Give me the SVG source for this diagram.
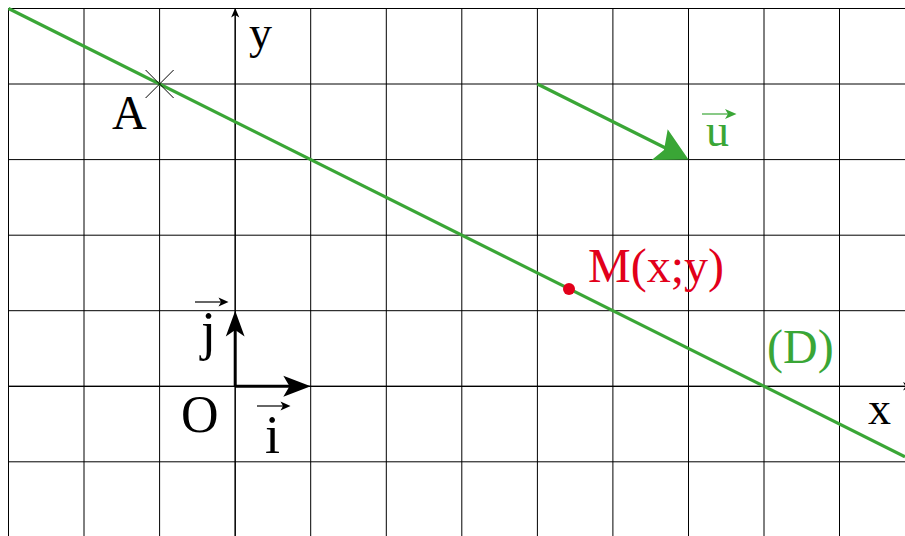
<svg xmlns="http://www.w3.org/2000/svg" width="905" height="536" viewBox="0 0 905 536">
<style>
.grid line{stroke:#000;stroke-width:1}
.t{font-family:"Liberation Serif","Times New Roman",serif}
.blk{fill:#000}
.grn{fill:#3aa636}
.red{fill:#e2001a}
</style>
<rect width="905" height="536" fill="#fff"/>
<g id="grid" class="grid">
<line x1="8.5" y1="8.5" x2="8.5" y2="536"/>
<line x1="84" y1="8.5" x2="84" y2="536"/>
<line x1="159.6" y1="8.5" x2="159.6" y2="536"/>
<line x1="235.2" y1="8.5" x2="235.2" y2="536"/>
<line x1="310.7" y1="8.5" x2="310.7" y2="536"/>
<line x1="386.3" y1="8.5" x2="386.3" y2="536"/>
<line x1="461.8" y1="8.5" x2="461.8" y2="536"/>
<line x1="537.4" y1="8.5" x2="537.4" y2="536"/>
<line x1="612.9" y1="8.5" x2="612.9" y2="536"/>
<line x1="688.5" y1="8.5" x2="688.5" y2="536"/>
<line x1="764" y1="8.5" x2="764" y2="536"/>
<line x1="839.5" y1="8.5" x2="839.5" y2="536"/>
<line x1="8.5" y1="8.5" x2="905" y2="8.5"/>
<line x1="8.5" y1="84" x2="905" y2="84"/>
<line x1="8.5" y1="159.6" x2="905" y2="159.6"/>
<line x1="8.5" y1="235.2" x2="905" y2="235.2"/>
<line x1="8.5" y1="310.7" x2="905" y2="310.7"/>
<line x1="8.5" y1="386.3" x2="905" y2="386.3"/>
<line x1="8.5" y1="461.8" x2="905" y2="461.8"/>
</g>
<g id="axes">
<line x1="235.2" y1="536" x2="235.2" y2="14" stroke="#000" stroke-width="1.2"/>
<path d="M235.2 8 L239.3 17.5 L235.2 15 L231.1 17.5 Z" fill="#000"/>
<line x1="8.5" y1="386.3" x2="905" y2="386.3" stroke="#000" stroke-width="1.2"/>
<path d="M912 386.3 L903 390.5 L905.5 386.3 L903 382 Z" fill="#000"/>
</g>
<g id="connectors">
<line id="lineD" x1="8.5" y1="8.5" x2="905" y2="456.75" stroke="#3aa636" stroke-width="3.2"/>
<g id="vector-u">
<line x1="537.4" y1="84" x2="670" y2="150.3" stroke="#3aa636" stroke-width="3.2"/>
<path d="M688.5 159.6 L651.7 160 L664 150 L667.7 129.3 Z" fill="#3aa636"/>
</g>
<g id="vector-j">
<line x1="235.2" y1="386.3" x2="235.2" y2="328" stroke="#000" stroke-width="3"/>
<path d="M235.2 310.7 L244.6 336.5 L235.2 330 L225.8 336.5 Z" fill="#000"/>
</g>
<g id="vector-i">
<line x1="235.2" y1="386.3" x2="292" y2="386.3" stroke="#000" stroke-width="3"/>
<path d="M310.7 386.3 L283.3 396.8 L289.5 386.3 L283.3 375.8 Z" fill="#000"/>
</g>
</g>
<g id="node-A">
<line x1="145.6" y1="70" x2="173.6" y2="98" stroke="#000" stroke-width="1"/>
<line x1="145.6" y1="98" x2="173.6" y2="70" stroke="#000" stroke-width="1"/>
<text class="t blk" x="112" y="129" font-size="48">A</text>
</g>
<g id="label-y"><text class="t blk" x="249" y="48" font-size="46">y</text></g>
<g id="label-x"><text class="t blk" x="868" y="424" font-size="46">x</text></g>
<g id="label-O"><text class="t blk" x="181" y="432" font-size="52">O</text></g>
<g id="label-i">
<text class="t blk" x="265" y="453" font-size="54">i</text>
<line x1="257" y1="406" x2="286" y2="406" stroke="#000" stroke-width="1.2"/>
<path d="M290.5 406 L280.5 401.5 L283 406 L280.5 410.5 Z" fill="#000"/>
</g>
<g id="label-j">
<text class="t blk" x="201" y="349" font-size="54">j</text>
<line x1="195" y1="302" x2="224" y2="302" stroke="#000" stroke-width="1.2"/>
<path d="M228.5 302 L218.5 297.5 L221 302 L218.5 306.5 Z" fill="#000"/>
</g>
<g id="label-u">
<text class="t grn" x="706" y="146" font-size="46">u</text>
<line x1="702" y1="114" x2="732" y2="114" stroke="#3aa636" stroke-width="1.2"/>
<path d="M736.5 114 L725 109 L728 114 L725 119 Z" fill="#3aa636"/>
</g>
<g id="node-M">
<circle cx="569" cy="289" r="6" fill="#e2001a"/>
<text class="t red" x="588" y="282" font-size="48">M(x;y)</text>
</g>
<g id="label-D"><text class="t grn" x="767" y="363" font-size="48">(D)</text></g>
</svg>
